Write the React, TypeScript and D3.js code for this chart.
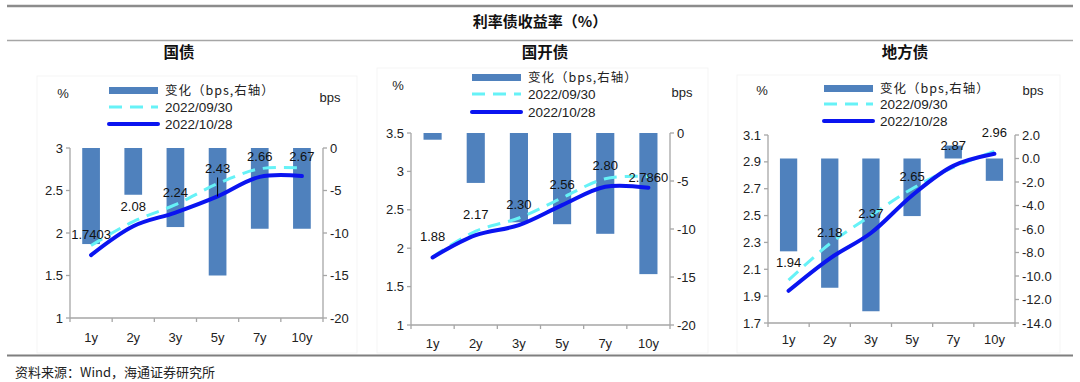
import React from "react";
import * as d3 from "d3";

const categories = ["1y", "2y", "3y", "5y", "7y", "10y"];

const govChange = [-11.3, -5.5, -9.3, -15.0, -9.5, -9.5];
const gov0930 = [1.853, 2.135, 2.333, 2.58, 2.755, 2.765];
const gov1028 = [1.7403, 2.08, 2.24, 2.43, 2.66, 2.67];
const govLabels = ["1.7403", "2.08", "2.24", "2.43", "2.66", "2.67"];
const govLeftTicks = [1, 1.5, 2, 2.5, 3];
const govLeftTickLabels = ["1", "1.5", "2", "2.5", "3"];
const govRightTicks = [-20, -15, -10, -5, 0];
const govRightTickLabels = ["-20", "-15", "-10", "-5", "0"];

const cdbChange = [-0.7, -5.2, -9.3, -9.5, -10.5, -14.7];
const cdb0930 = [1.887, 2.222, 2.393, 2.655, 2.905, 2.933];
const cdb1028 = [1.88, 2.17, 2.3, 2.56, 2.8, 2.786];
const cdbLabels = ["1.88", "2.17", "2.30", "2.56", "2.80", "2.7860"];
const cdbLeftTicks = [1, 1.5, 2, 2.5, 3, 3.5];
const cdbLeftTickLabels = ["1", "1.5", "2", "2.5", "3", "3.5"];
const cdbRightTicks = [-20, -15, -10, -5, 0];
const cdbRightTickLabels = ["-20", "-15", "-10", "-5", "0"];

const locChange = [-7.9, -11.0, -13.0, -4.9, 1.1, -1.9];
const loc0930 = [2.019, 2.29, 2.5, 2.7, 2.859, 2.979];
const loc1028 = [1.94, 2.18, 2.37, 2.65, 2.87, 2.96];
const locLabels = ["1.94", "2.18", "2.37", "2.65", "2.87", "2.96"];
const locLeftTicks = [1.7, 1.9, 2.1, 2.3, 2.5, 2.7, 2.9, 3.1];
const locLeftTickLabels = ["1.7", "1.9", "2.1", "2.3", "2.5", "2.7", "2.9", "3.1"];
const locRightTicks = [-14, -12, -10, -8, -6, -4, -2, 0, 2];
const locRightTickLabels = ["-14.0", "-12.0", "-10.0", "-8.0", "-6.0", "-4.0", "-2.0", "0.0", "2.0"];

const chartTitle = "利率债收益率（%）";
const panelTitles = ["国债", "国开债", "地方债"];
const legendLabels = ["变化（bps,右轴）", "2022/09/30", "2022/10/28"];
const sourceText = "资料来源：Wind，海通证券研究所";

const BAR = "#4f81bd";
const DASH = "#66f2f7";
const SOLID = "#0a14f0";
const AXIS = "#a6a6a6";
const FONT = "'Liberation Sans', Arial, sans-serif";
const CJK = "'Noto Sans CJK SC', sans-serif";

type PanelCfg = {
  title: string;
  titleX: number;
  box: [number, number, number, number];
  x0: number; x1: number; yTop: number; yBot: number;
  leftDomain: [number, number];
  leftTicks: number[]; leftTickLabels: string[];
  rightDomain: [number, number];
  rightTicks: number[]; rightTickLabels: string[];
  change: number[]; s0930: number[]; s1028: number[]; labels: string[];
  labelDy: number[];
  leader?: number;
  legendX: number; legendY: [number, number, number];
  pctPos: [number, number]; bpsPos: [number, number];
  xLabelY: number;
};

const panels: PanelCfg[] = [
  {
    title: panelTitles[0], titleX: 179, box: [37, 76, 357, 353],
    x0: 70, x1: 323, yTop: 148, yBot: 318,
    leftDomain: [1, 3], leftTicks: govLeftTicks, leftTickLabels: govLeftTickLabels,
    rightDomain: [-20, 0], rightTicks: govRightTicks, rightTickLabels: govRightTickLabels,
    change: govChange, s0930: gov0930, s1028: gov1028, labels: govLabels,
    labelDy: [-21, -20, -20, -28, -20, -20], leader: 3,
    legendX: 109, legendY: [90.5, 107, 124],
    pctPos: [63, 93], bpsPos: [330, 97], xLabelY: 337,
  },
  {
    title: panelTitles[1], titleX: 545, box: [377, 68, 708, 353],
    x0: 411, x1: 670, yTop: 133, yBot: 325,
    leftDomain: [1, 3.5], leftTicks: cdbLeftTicks, leftTickLabels: cdbLeftTickLabels,
    rightDomain: [-20, 0], rightTicks: cdbRightTicks, rightTickLabels: cdbRightTickLabels,
    change: cdbChange, s0930: cdb0930, s1028: cdb1028, labels: cdbLabels,
    labelDy: [-21, -21, -21, -21, -21, -10],
    legendX: 472, legendY: [77.5, 94, 112],
    pctPos: [398, 85], bpsPos: [682, 92], xLabelY: 343,
  },
  {
    title: panelTitles[2], titleX: 905, box: [737, 75, 1060, 353],
    x0: 768, x1: 1015, yTop: 135, yBot: 323,
    leftDomain: [1.7, 3.1], leftTicks: locLeftTicks, leftTickLabels: locLeftTickLabels,
    rightDomain: [-14, 2], rightTicks: locRightTicks, rightTickLabels: locRightTickLabels,
    change: locChange, s0930: loc0930, s1028: loc1028, labels: locLabels,
    labelDy: [-28, -26, -20, -19, -20, -21],
    legendX: 824, legendY: [88.5, 104, 121],
    pctPos: [762, 90], bpsPos: [1033, 90], xLabelY: 339,
  },
];

function Panel({ p }: { p: PanelCfg }) {
  const x = d3.scaleBand<string>().domain(categories).range([p.x0, p.x1]).paddingInner(0.58).paddingOuter(0.29);
  const xc = d3.scaleBand<string>().domain(categories).range([p.x0, p.x1]);
  const yL = d3.scaleLinear().domain(p.leftDomain).range([p.yBot, p.yTop]);
  const yR = d3.scaleLinear().domain(p.rightDomain).range([p.yBot, p.yTop]);
  const cx = (c: string) => (xc(c) as number) + xc.bandwidth() / 2;
  const line = d3
    .line<number>()
    .x((_, i) => cx(categories[i]))
    .y((v) => yL(v))
    .curve(d3.curveCatmullRom.alpha(0.5));
  const boundaries = d3.range(categories.length + 1).map((i) => p.x0 + i * xc.bandwidth());
  const lx = p.legendX;
  return (
    <g>
      <rect x={p.box[0]} y={p.box[1]} width={p.box[2] - p.box[0]} height={p.box[3] - p.box[1]} fill="#fff" stroke="#f5f5f5" />
      <text x={p.titleX} y={58} textAnchor="middle" fontFamily={CJK} fontWeight="bold" fontSize={15.5} fill="#111">{p.title}</text>
      {/* legend */}
      <rect x={lx} y={p.legendY[0] - 3.5} width={49} height={7} fill={BAR} />
      <line x1={lx} x2={lx + 49} y1={p.legendY[1]} y2={p.legendY[1]} stroke={DASH} strokeWidth={3} strokeDasharray="13 8" />
      <line x1={lx} x2={lx + 49} y1={p.legendY[2]} y2={p.legendY[2]} stroke={SOLID} strokeWidth={4} strokeLinecap="round" />
      <text x={lx + 56} y={p.legendY[0] + 4.5} fontFamily={CJK} fontSize={12.5} fill="#222" letterSpacing={1}>{legendLabels[0]}</text>
      <text x={lx + 56} y={p.legendY[1] + 5} fontFamily={FONT} fontSize={13.5} fill="#222">{legendLabels[1]}</text>
      <text x={lx + 56} y={p.legendY[2] + 5} fontFamily={FONT} fontSize={13.5} fill="#222">{legendLabels[2]}</text>
      <text x={p.pctPos[0]} y={p.pctPos[1] + 4.5} textAnchor="middle" fontFamily={FONT} fontSize={13} fill="#222">%</text>
      <text x={p.bpsPos[0]} y={p.bpsPos[1] + 4.5} textAnchor="middle" fontFamily={FONT} fontSize={13} fill="#222">bps</text>
      {/* bars */}
      {categories.map((c, i) => {
        const v = p.change[i];
        const y0 = yR(0);
        const y1 = yR(v);
        return <rect key={c} x={x(c)} y={Math.min(y0, y1)} width={x.bandwidth()} height={Math.abs(y1 - y0)} fill={BAR} />;
      })}
      {/* axes */}
      <line x1={p.x0} x2={p.x0} y1={p.yTop} y2={p.yBot} stroke={AXIS} strokeWidth={1.3} />
      <line x1={p.x1} x2={p.x1} y1={p.yTop} y2={p.yBot} stroke={AXIS} strokeWidth={1.3} />
      <line x1={p.x0} x2={p.x1} y1={p.yBot} y2={p.yBot} stroke={AXIS} strokeWidth={1.3} />
      {p.leftTicks.map((t, i) => (
        <g key={"l" + i}>
          <line x1={p.x0 - 4} x2={p.x0} y1={yL(t)} y2={yL(t)} stroke={AXIS} strokeWidth={1.3} />
          <text x={p.x0 - 7} y={yL(t) + 4.5} textAnchor="end" fontFamily={FONT} fontSize={13} fill="#222">{p.leftTickLabels[i]}</text>
        </g>
      ))}
      {p.rightTicks.map((t, i) => (
        <g key={"r" + i}>
          <line x1={p.x1} x2={p.x1 + 4} y1={yR(t)} y2={yR(t)} stroke={AXIS} strokeWidth={1.3} />
          <text x={p.x1 + 7} y={yR(t) + 4.5} textAnchor="start" fontFamily={FONT} fontSize={13} fill="#222">{p.rightTickLabels[i]}</text>
        </g>
      ))}
      {boundaries.map((b, i) => (
        <line key={"b" + i} x1={b} x2={b} y1={p.yBot} y2={p.yBot + 4} stroke={AXIS} strokeWidth={1.3} />
      ))}
      {categories.map((c) => (
        <text key={"x" + c} x={cx(c)} y={p.xLabelY + 5} textAnchor="middle" fontFamily={FONT} fontSize={13} fill="#222">{c}</text>
      ))}
      {/* lines */}
      <path d={line(p.s0930) || ""} fill="none" stroke={DASH} strokeWidth={3} strokeDasharray="13 8" />
      <path d={line(p.s1028) || ""} fill="none" stroke={SOLID} strokeWidth={4} strokeLinecap="round" />
      {/* labels */}
      {categories.map((c, i) => {
        const py = yL(p.s1028[i]);
        const ly = py + p.labelDy[i];
        return (
          <g key={"lab" + c}>
            {p.leader === i && (
              <line x1={cx(c)} x2={cx(c)} y1={ly + 9} y2={py} stroke="#000" strokeWidth={1} />
            )}
            <text x={cx(c)} y={ly + 4.5} textAnchor="middle" fontFamily={FONT} fontSize={13} fill="#111">{p.labels[i]}</text>
          </g>
        );
      })}
    </g>
  );
}

export default function App() {
  return (
    <svg width={1080} height={382} style={{ position: "absolute", left: 0, top: 0, background: "#fff" }}>
      <rect width={1080} height={382} fill="#fff" />
      <line x1={7} x2={1073} y1={6} y2={6} stroke="#8c8c8c" strokeWidth={2.5} />
      <text x={540} y={27} textAnchor="middle" fontFamily={CJK} fontWeight="bold" fontSize={15} fill="#111">{chartTitle}</text>
      <line x1={7} x2={1073} y1={40.5} y2={40.5} stroke="#a6a6a6" strokeWidth={1.5} />
      {panels.map((p, i) => (
        <Panel key={i} p={p} />
      ))}
      <line x1={7} x2={1073} y1={355.5} y2={355.5} stroke="#7f7f7f" strokeWidth={1.8} />
      <text x={15} y={377} fontFamily={CJK} fontSize={13} fill="#222">{sourceText}</text>
    </svg>
  );
}
